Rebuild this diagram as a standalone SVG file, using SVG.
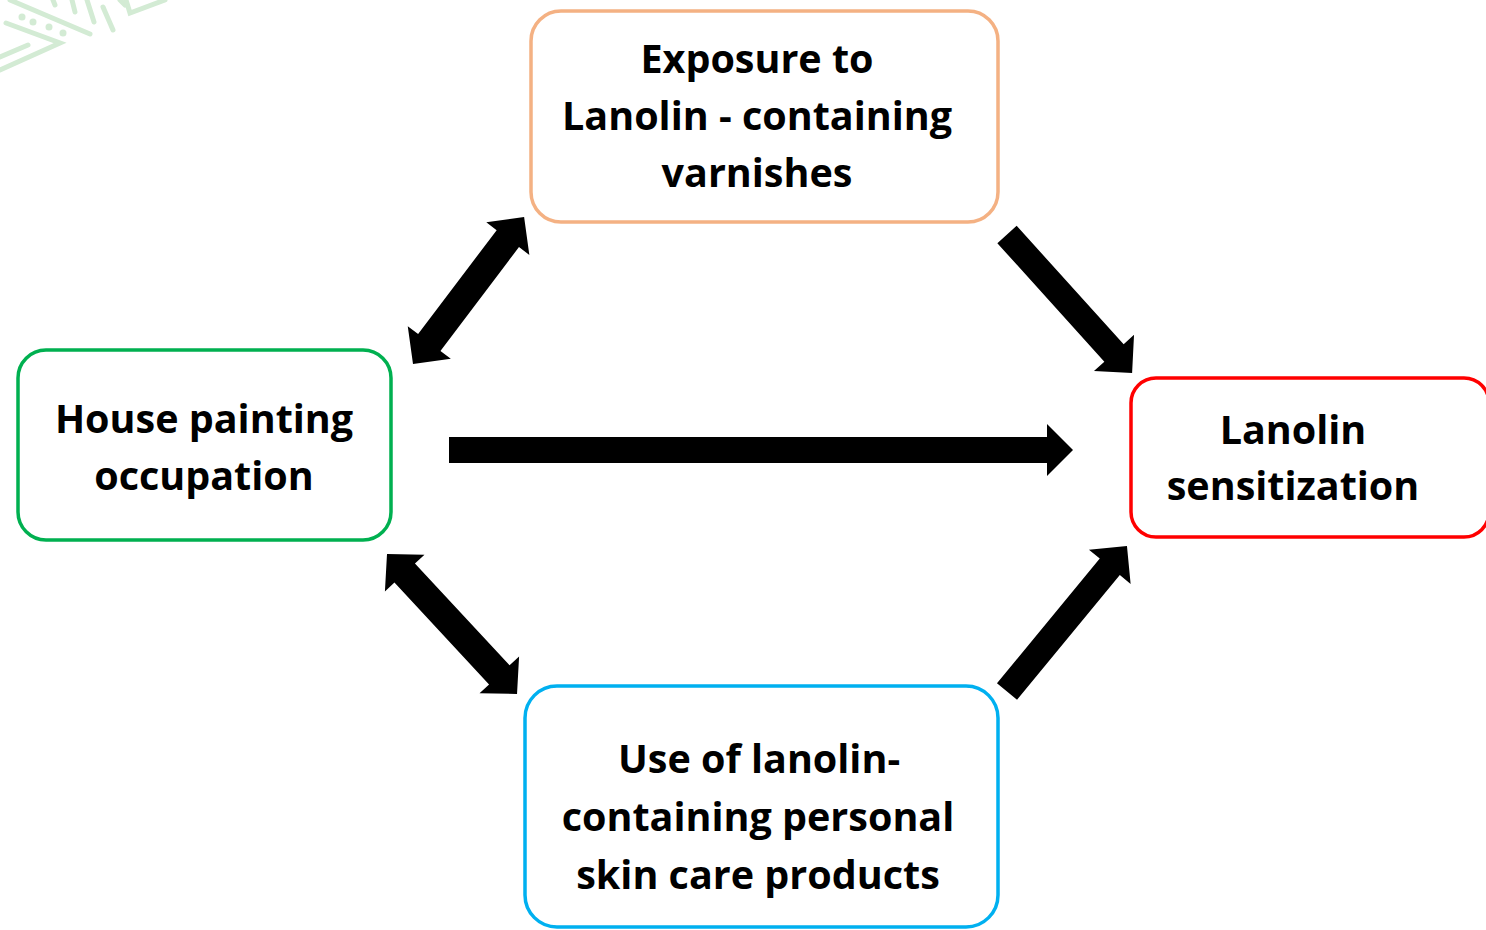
<svg xmlns="http://www.w3.org/2000/svg" width="1486" height="930" viewBox="0 0 1486 930">
<style>
.box{fill:#fff;stroke-width:3.5}
.t{font-family:"Open Sans",Lato,"Liberation Sans",sans-serif;font-weight:bold;font-size:39.5px;fill:#000;text-anchor:middle;font-variant-ligatures:none}
.arr{fill:#000}
.deco{stroke:#D3EBD4;stroke-width:5;stroke-linecap:round;fill:none}
</style>
<g id="decoration">
<polyline class="deco" points="6,23 60,43 0,70"/>
<line class="deco" x1="28" y1="45" x2="0" y2="57"/>
<line class="deco" x1="10" y1="0" x2="90" y2="34"/>
<circle cx="22" cy="17" r="3.5" fill="#D3EBD4"/>
<circle cx="33" cy="22" r="3.5" fill="#D3EBD4"/>
<circle cx="49" cy="27" r="3.5" fill="#D3EBD4"/>
<circle cx="63" cy="33" r="3.5" fill="#D3EBD4"/>
<line class="deco" x1="53" y1="0" x2="55" y2="5"/>
<line class="deco" x1="72" y1="0" x2="75" y2="12"/>
<line class="deco" x1="87" y1="0" x2="94" y2="22"/>
<line class="deco" x1="103" y1="7" x2="113" y2="30"/>
<line class="deco" x1="120" y1="0" x2="125" y2="5"/>
<polyline class="deco" points="126,0 130,13 165,0"/>
</g>
<g id="connectors">
<polygon class="arr" transform="translate(449,450)" points="0,-13 598,-13 598,-26 624,0 598,26 598,13 0,13"/>
<polygon class="arr" transform="translate(1007,234.5) rotate(47.9)" points="0,-13 159.6,-13 159.6,-27 186.6,0 159.6,27 159.6,13 0,13"/>
<polygon class="arr" transform="translate(1007,691.5) rotate(-50.5)" points="0,-13 161.6,-13 161.6,-27 188.6,0 161.6,27 161.6,13 0,13"/>
<polygon class="arr" transform="translate(413,364) rotate(-52.9)" points="27,-14 157.2,-14 157.2,-27 184.2,0 157.2,27 157.2,14 27,14 27,27 0,0 27,-27"/>
<polygon class="arr" transform="translate(387,554) rotate(47.1)" points="26,-14 165,-14 165,-27 191,0 165,27 165,14 26,14 26,27 0,0 26,-27"/>
</g>
<g id="node-exposure">
<rect class="box" x="531" y="11" width="467" height="211" rx="30" stroke="#F4B183"/>
<text class="t" x="757" y="73">Exposure to</text>
<text class="t" x="757" y="130">Lanolin - containing</text>
<text class="t" x="757" y="187">varnishes</text>
</g>
<g id="node-house">
<rect class="box" x="18" y="350" width="373" height="190" rx="28" stroke="#00B050"/>
<text class="t" x="204" y="433">House painting</text>
<text class="t" x="204" y="490">occupation</text>
</g>
<g id="node-sensitization">
<rect class="box" x="1131" y="378" width="358" height="159" rx="25" stroke="#FF0000"/>
<text class="t" x="1293" y="444">Lanolin</text>
<text class="t" x="1293" y="500">sensitization</text>
</g>
<g id="node-skincare">
<rect class="box" x="525" y="686" width="473" height="241" rx="32" stroke="#00B0F0"/>
<text class="t" x="759" y="773">Use of lanolin-</text>
<text class="t" x="758" y="831">containing personal</text>
<text class="t" x="758" y="889">skin care products</text>
</g>
</svg>
